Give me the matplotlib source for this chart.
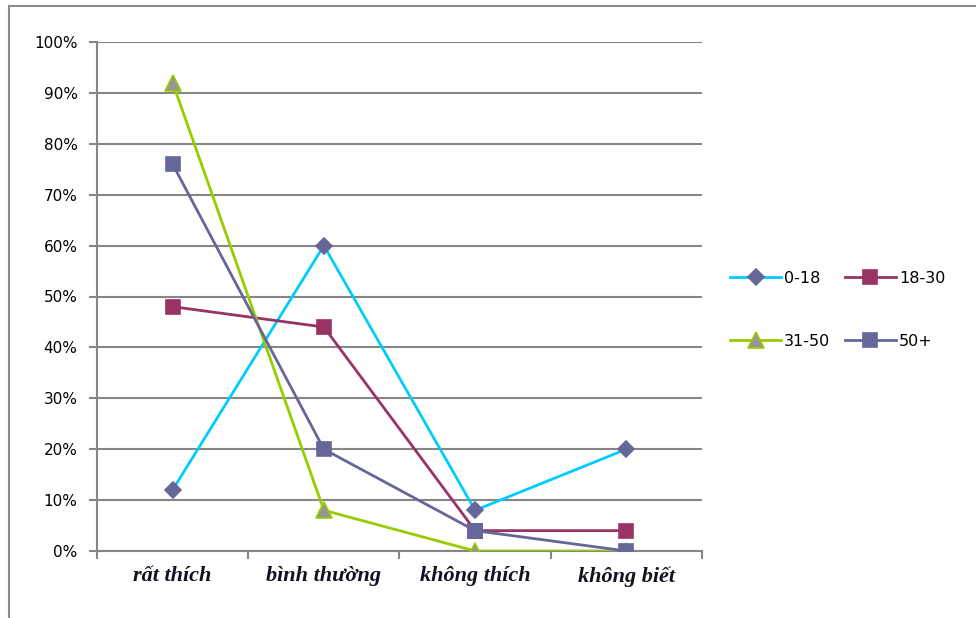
import matplotlib.pyplot as plt
from matplotlib.patches import Rectangle
from matplotlib.ticker import FuncFormatter

# data
categories = ["rất thích", "bình thường", "không thích", "không biết"]
series_names = ["0-18", "18-30", "31-50", "50+"]
v_0_18 = [12, 60, 8, 20]
v_18_30 = [48, 44, 4, 4]
v_31_50 = [92, 8, 0, 0]
v_50_plus = [76, 20, 4, 0]

values = [v_0_18, v_18_30, v_31_50, v_50_plus]
line_colors = ["#00CCFF", "#993366", "#99CC00", "#666699"]
marker_face = ["#666699", "#993366", "#969696", "#666699"]
marker_edge = ["#666699", "#993366", "#99CC00", "#666699"]
markers = ["D", "s", "^", "s"]
msizes = [8, 10, 11, 10]

fig = plt.figure(figsize=(9.76, 6.18), dpi=100)
fig.patches.append(Rectangle((9 / 976, -0.1), 1.2, 1 - 6 / 618 + 0.1,
                             transform=fig.transFigure, fill=False,
                             edgecolor="#8c8c8c", lw=1.5))
ax = fig.add_axes([97 / 976, 1 - 551 / 618, 605 / 976, 509 / 618])

x = list(range(len(categories)))
lines = []
for i in range(4):
    ln, = ax.plot(x, values[i], color=line_colors[i], lw=2, marker=markers[i],
                  ms=msizes[i], mfc=marker_face[i], mec=marker_edge[i], mew=1.2,
                  label=series_names[i], zorder=3 + i)
    lines.append(ln)

ax.set_xlim(-0.5, 3.5)
ax.set_ylim(0, 100)
ax.set_yticks(range(0, 101, 10))
ax.yaxis.set_major_formatter(FuncFormatter(lambda v, p: f"{v:.0f}%"))
ax.yaxis.grid(True, color="#868686", lw=1.5)
ax.set_axisbelow(True)

ax.set_xticks(x)
ax.set_xticklabels(categories, family="Liberation Serif", style="italic",
                   weight="bold", fontsize=16, color="#111122")
ax.set_xticks([-0.5, 0.5, 1.5, 2.5, 3.5], minor=True)
ax.tick_params(axis="x", which="major", length=0, pad=11)
ax.tick_params(axis="x", which="minor", length=6, color="#868686", width=1.5)
ax.tick_params(axis="y", length=6, color="#868686", width=1.5, labelsize=11, pad=8)

for s in ["top", "right"]:
    ax.spines[s].set_visible(False)
for s in ["left", "bottom"]:
    ax.spines[s].set_color("#868686")
    ax.spines[s].set_linewidth(1.5)

# legend reads row by row in the reference
order = [0, 2, 1, 3]
ax.legend([lines[k] for k in order], [series_names[k] for k in order],
          loc="center left", bbox_to_anchor=(722 / 976, 1 - 310 / 618),
          bbox_transform=fig.transFigure, ncol=2, frameon=False,
          fontsize=11.5, handlelength=3.2, handletextpad=0.2,
          columnspacing=0.9, labelspacing=3.0, borderpad=0)

fig.savefig("out.png", dpi=100)
